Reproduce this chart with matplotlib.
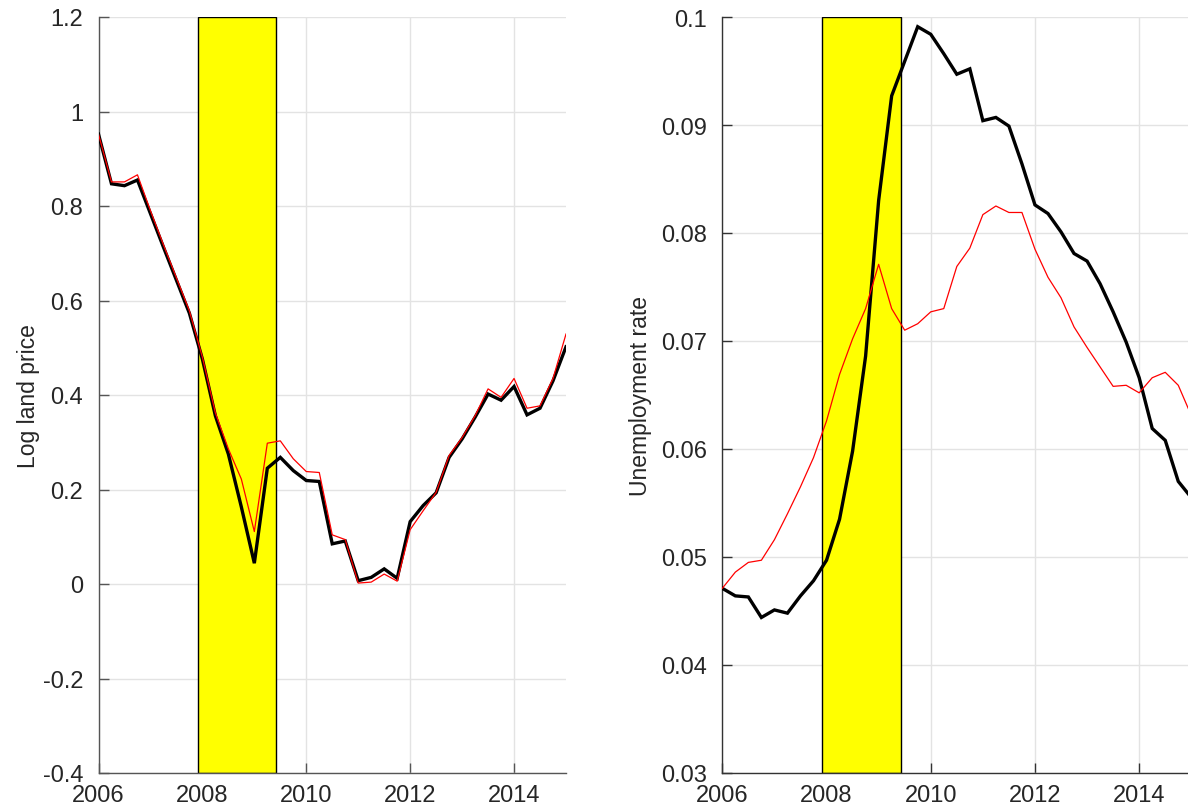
import numpy as np
import matplotlib
matplotlib.use("Agg")
import matplotlib.pyplot as plt
from matplotlib.patches import Rectangle

plt.rcParams['font.family'] = ['Liberation Sans', 'DejaVu Sans']

# quarterly dates 2006Q1 .. 2015Q1
dates = 2006 + np.arange(37) / 4.0

# Left panel: log land price
land_black = [0.952, 0.847, 0.843, 0.855, 0.784, 0.713, 0.643, 0.573, 0.476, 0.356,
              0.275, 0.163, 0.044, 0.245, 0.268, 0.240, 0.219, 0.217, 0.085, 0.091,
              0.007, 0.014, 0.032, 0.012, 0.132, 0.166, 0.193, 0.268, 0.307, 0.353,
              0.402, 0.389, 0.418, 0.358, 0.372, 0.430, 0.502]
land_red = [0.952, 0.851, 0.851, 0.866, 0.790, 0.718, 0.648, 0.578, 0.480, 0.362,
            0.286, 0.222, 0.111, 0.298, 0.303, 0.265, 0.238, 0.236, 0.104, 0.094,
            0.002, 0.004, 0.021, 0.006, 0.115, 0.155, 0.194, 0.272, 0.310, 0.356,
            0.413, 0.395, 0.435, 0.372, 0.377, 0.435, 0.529]

# Right panel: unemployment rate
unemp_black = [0.0471, 0.0464, 0.0463, 0.0444, 0.0451, 0.0448, 0.0464, 0.0478, 0.0497, 0.0535,
               0.0598, 0.0686, 0.0830, 0.0927, 0.0959, 0.0991, 0.0984, 0.0966, 0.0947, 0.0952,
               0.0904, 0.0907, 0.0899, 0.0864, 0.0826, 0.0818, 0.0801, 0.0781, 0.0774, 0.0753,
               0.0727, 0.0699, 0.0666, 0.0619, 0.0608, 0.0570, 0.0555]
unemp_red = [0.0471, 0.0486, 0.0495, 0.0497, 0.0516, 0.0540, 0.0565, 0.0592, 0.0626, 0.0669,
             0.0702, 0.0730, 0.0771, 0.0730, 0.0710, 0.0716, 0.0727, 0.0730, 0.0769, 0.0786,
             0.0817, 0.0825, 0.0819, 0.0819, 0.0785, 0.0759, 0.0740, 0.0713, 0.0694, 0.0676,
             0.0658, 0.0659, 0.0652, 0.0666, 0.0671, 0.0659, 0.0631]

recession = (2007.92, 2009.42)

xticks = [2006, 2008, 2010, 2012, 2014]
left_yticks = [-0.4, -0.2, 0, 0.2, 0.4, 0.6, 0.8, 1.0, 1.2]
left_yticklabels = ['-0.4', '-0.2', '0', '0.2', '0.4', '0.6', '0.8', '1', '1.2']
right_yticks = [0.03, 0.04, 0.05, 0.06, 0.07, 0.08, 0.09, 0.10]
right_yticklabels = ['0.03', '0.04', '0.05', '0.06', '0.07', '0.08', '0.09', '0.1']

W, H = 1188, 812
fig = plt.figure(figsize=(W / 100, H / 100), dpi=100)

ax1 = fig.add_axes([98.5 / W, 1 - 774 / H, (566 - 98.5) / W, (774 - 18) / H])
ax2 = fig.add_axes([722.3 / W, 1 - 774 / H, (1191.3 - 722.3) / W, (774 - 18) / H])

def style(ax, ylim, yticks, yticklabels, ylabel, spine_col):
    ax.set_xlim(2006, 2015)
    ax.set_ylim(*ylim)
    ax.set_xticks(xticks)
    ax.set_xticklabels([str(t) for t in xticks])
    ax.set_yticks(yticks)
    ax.set_yticklabels(yticklabels)
    ax.grid(True, color='#e3e3e3', linewidth=1.0, zorder=0)
    ax.set_axisbelow(True)
    for s in ['top', 'right']:
        ax.spines[s].set_visible(False)
    for s in ['left', 'bottom']:
        ax.spines[s].set_color(spine_col)
        ax.spines[s].set_linewidth(1.0)
    ax.tick_params(direction='in', length=7, width=1.0, colors=spine_col,
                   labelcolor='#262626', labelsize=17)
    ax.tick_params(axis='y', pad=11)
    ax.tick_params(axis='x', pad=8)
    ax.set_ylabel(ylabel, fontsize=16.5, color='#262626')
    ax.add_patch(Rectangle((recession[0], ylim[0]), recession[1] - recession[0],
                           ylim[1] - ylim[0], facecolor='#ffff00', edgecolor='black',
                           linewidth=1.0, zorder=1))

style(ax1, (-0.4, 1.2), left_yticks, left_yticklabels, 'Log land price', '#555555')
style(ax2, (0.03, 0.10), right_yticks, right_yticklabels, 'Unemployment rate', '#333333')

ax1.plot(dates, land_black, color='black', linewidth=2.4, zorder=3, solid_joinstyle='miter')
ax1.plot(dates, land_red, color='#ff0000', linewidth=0.9, zorder=4)
ax2.plot(dates, unemp_black, color='black', linewidth=2.4, zorder=3, solid_joinstyle='miter')
ax2.plot(dates, unemp_red, color='#ff0000', linewidth=0.9, zorder=4)

ax1.yaxis.set_label_coords(-0.125, 0.5)
ax2.yaxis.set_label_coords(-0.15, 0.5)

fig.savefig('out.png', dpi=100)
